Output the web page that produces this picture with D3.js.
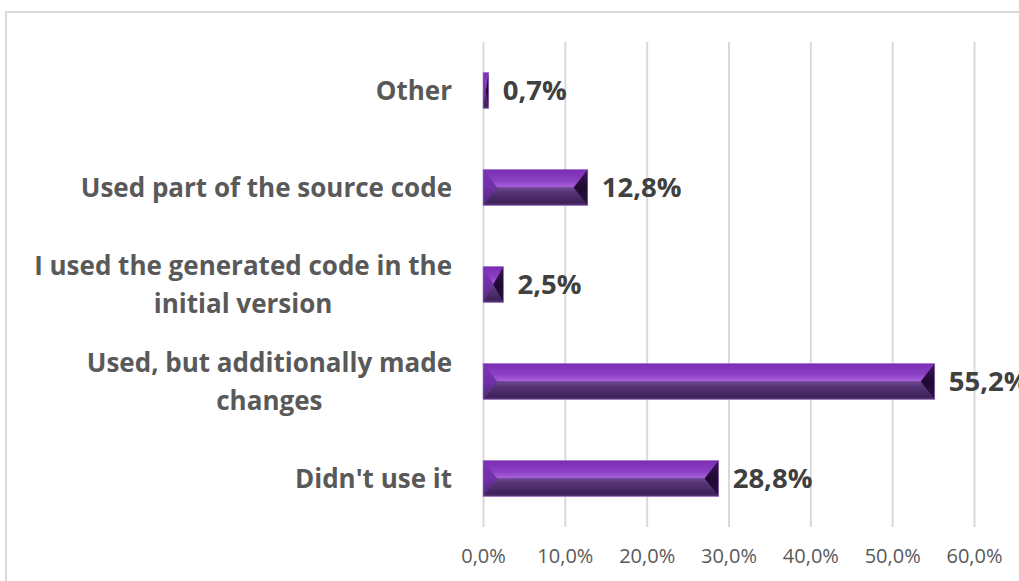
<!DOCTYPE html>
<html><head><meta charset="utf-8">
<script src="https://cdn.jsdelivr.net/npm/d3@7"></script>
<style>
html,body{margin:0;padding:0;background:#fff;overflow:hidden}
svg{display:block}
</style></head>
<body>
<svg id="chart" width="1019" height="581"></svg>
<script>
const categories = [
  ["Other"],
  ["Used part of the source code"],
  ["I used the generated code in the", "initial version"],
  ["Used, but additionally made", "changes"],
  ["Didn't use it"]
];
const values = [0.7, 12.8, 2.5, 55.2, 28.8];
const valueLabels = ["0,7%", "12,8%", "2,5%", "55,2%", "28,8%"];
const tickValues = [0, 10, 20, 30, 40, 50, 60];
const tickLabels = ["0,0%", "10,0%", "20,0%", "30,0%", "40,0%", "50,0%", "60,0%"];

const svg = d3.select("#chart");
const FONT = "'Open Sans', 'Noto Sans', sans-serif";
const plot = {left: 483, right: 974, top: 42, bottom: 527};

// frame
svg.append("rect").attr("x", 6).attr("y", 12).attr("width", 1100).attr("height", 700)
  .attr("fill", "#fff").attr("stroke", "#d9d9d9").attr("stroke-width", 2);

const x = d3.scaleLinear().domain([0, 60]).range([plot.left, plot.right]);
const ids = categories.map((c, i) => "c" + i);
const y = d3.scaleBand().domain(ids).range([plot.top, plot.bottom]).paddingInner(0.63).paddingOuter(0.315);

// gradients
const defs = svg.append("defs");
function grad(id, stops) {
  const g = defs.append("linearGradient").attr("id", id).attr("x1", 0).attr("y1", 0).attr("x2", 0).attr("y2", 1);
  stops.forEach(s => g.append("stop").attr("offset", s[0]).attr("stop-color", s[1]));
}
grad("gTop", [[0, "#7a2db4"], [0.6, "#8c40c4"], [1, "#a864dc"]]);
grad("gBot", [[0, "#6c4a8e"], [0.25, "#573577"], [0.85, "#3f2159"], [1, "#5b3a7c"]]);
grad("gLeft", [[0, "#7a34b6"], [0.5, "#7030a8"], [1, "#4e2a73"]]);
grad("gRight", [[0, "#3a1656"], [0.5, "#1e0a30"], [1, "#2a1240"]]);

// grid lines
const grid = svg.append("g").attr("transform", `translate(0,${plot.bottom})`)
  .call(d3.axisBottom(x).tickValues(tickValues).tickSize(-(plot.bottom - plot.top)).tickFormat(""));
grid.select(".domain").remove();
grid.selectAll(".tick line").attr("stroke", "#d9d9d9").attr("stroke-width", 2);

// axis labels
const ax = svg.append("g").attr("transform", `translate(0,${plot.bottom})`)
  .call(d3.axisBottom(x).tickValues(tickValues).tickSize(0).tickPadding(0)
    .tickFormat((d, i) => tickLabels[i]));
ax.select(".domain").remove();
ax.selectAll(".tick text").attr("font-family", FONT).attr("font-size", 20)
  .attr("fill", "#595959").attr("dy", null).attr("y", 36);

// bars with bevel
const bars = svg.append("g");
values.forEach((v, i) => {
  const x0 = x(0), x1 = x(v);
  const y0 = y(ids[i]), h = y.bandwidth(), y1 = y0 + h, yc = y0 + h / 2;
  const w = x1 - x0;
  const ins = Math.min(14, w / 2);
  const g = bars.append("g");
  g.append("rect").attr("x", x0).attr("y", y0).attr("width", w).attr("height", h).attr("fill", "#6a2d9e");
  const poly = (pts, fill) => g.append("polygon").attr("points", pts.map(p => p.join(",")).join(" ")).attr("fill", fill);
  poly([[x0, y0], [x1, y0], [x1 - ins, yc], [x0 + ins, yc]], "url(#gTop)");
  poly([[x0 + ins, yc], [x1 - ins, yc], [x1, y1], [x0, y1]], "url(#gBot)");
  poly([[x0, y0], [x0 + ins, yc], [x0, y1]], "url(#gLeft)");
  poly([[x1, y0], [x1, y1], [x1 - ins, yc]], "url(#gRight)");
  g.append("rect").attr("x", x0).attr("y", y0).attr("width", w).attr("height", h)
    .attr("fill", "none").attr("stroke", "#b58fd6").attr("stroke-width", 0.8).attr("stroke-opacity", 0.7);
});

// value labels
svg.append("g").selectAll("text").data(values).join("text")
  .attr("x", d => x(d) + 14)
  .attr("y", (d, i) => y(ids[i]) + y.bandwidth() / 2)
  .attr("dy", "0.36em")
  .attr("font-family", FONT).attr("font-weight", 700).attr("font-size", 27.5)
  .attr("fill", "#404040")
  .text((d, i) => valueLabels[i]);

// category labels
const labelRight = 452, lineH = 38;
const cg = svg.append("g");
categories.forEach((lines, i) => {
  const cy = y(ids[i]) + y.bandwidth() / 2;
  const t = cg.append("text").attr("font-family", FONT).attr("font-weight", 700)
    .attr("font-size", 26).attr("fill", "#595959").attr("text-anchor", "middle");
  const spans = lines.map((ln, k) => t.append("tspan").text(ln)
    .attr("y", cy + (k - (lines.length - 1) / 2) * lineH).attr("dy", "0.36em"));
  const maxW = d3.max(spans.map(s => s.node().getComputedTextLength()));
  spans.forEach(s => s.attr("x", labelRight - maxW / 2));
});
</script>
</body></html>
